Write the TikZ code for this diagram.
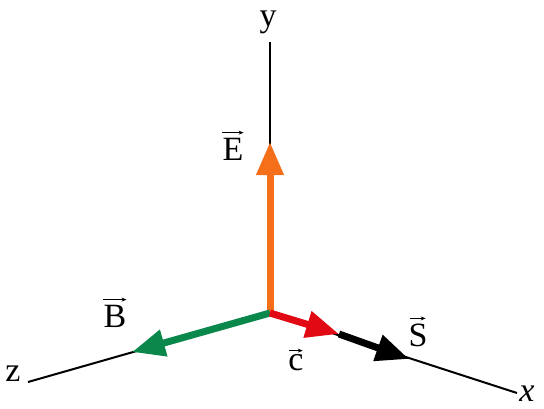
\documentclass[tikz,border=0pt]{standalone}
\usepackage{fontspec}
\setmainfont{Liberation Serif}
\usetikzlibrary{arrows.meta}

\begin{document}
\begin{tikzpicture}[
  x=1pt, y=-1pt,
  axis/.style={draw=black, line width=2pt},
  vecarrow/.style={line width=7pt, -{Triangle[length=33pt, width=26pt]}},
  lbl/.style={font=\fontsize{34}{36}\selectfont, inner sep=0pt},
  overarrow/.style={line width=0.8pt, -{Stealth[length=5pt, width=4pt]}}
]
\useasboundingbox (0,0) rectangle (544,408);
\definecolor{eorange}{RGB}{245,110,25}
\definecolor{bgreen}{RGB}{10,135,75}
\definecolor{cred}{RGB}{225,10,20}

\coordinate (O) at (270,313);
\coordinate (ytop) at (270,42);
\coordinate (xend) at (517,393);
\coordinate (zend) at (28,382);
\coordinate (Etip) at (270,142);
\coordinate (Btip) at (132,352);
\coordinate (ctip) at (339,334);
\coordinate (Stip) at (409,359);

% axes
\draw[axis] (O) -- (ytop);
\draw[axis] (O) -- (xend);
\draw[axis] (O) -- (zend);

% field vectors
\draw[vecarrow, eorange] (O) -- (Etip);
\draw[vecarrow, bgreen] (O) -- (Btip);
\draw[vecarrow, black] (ctip) -- (Stip);
\draw[vecarrow, cred] (O) -- (ctip);

% labels
\node[lbl] (ylbl) at (268,22) {y};
\node[lbl] (xlbl) at (527,394) {\itshape x};
\node[lbl] (zlbl) at (13,374) {z};
\node[lbl] (Elbl) at (233,149) {E};
\node[lbl] (Blbl) at (115,316) {B};
\node[lbl] (clbl) at (296,363) {c};
\node[lbl] (Slbl) at (418,335) {S};

% vector marks
\draw[overarrow] ([yshift=5pt]Elbl.north west) -- ([yshift=5pt]Elbl.north east);
\draw[overarrow] ([yshift=5pt]Blbl.north west) -- ([yshift=5pt]Blbl.north east);
\draw[overarrow] ([xshift=1pt, yshift=4pt]clbl.north west) -- ([xshift=-1pt, yshift=4pt]clbl.north east);
\draw[overarrow] ([xshift=2pt, yshift=5pt]Slbl.north west) -- ([xshift=-2pt, yshift=5pt]Slbl.north east);
\end{tikzpicture}
\end{document}
